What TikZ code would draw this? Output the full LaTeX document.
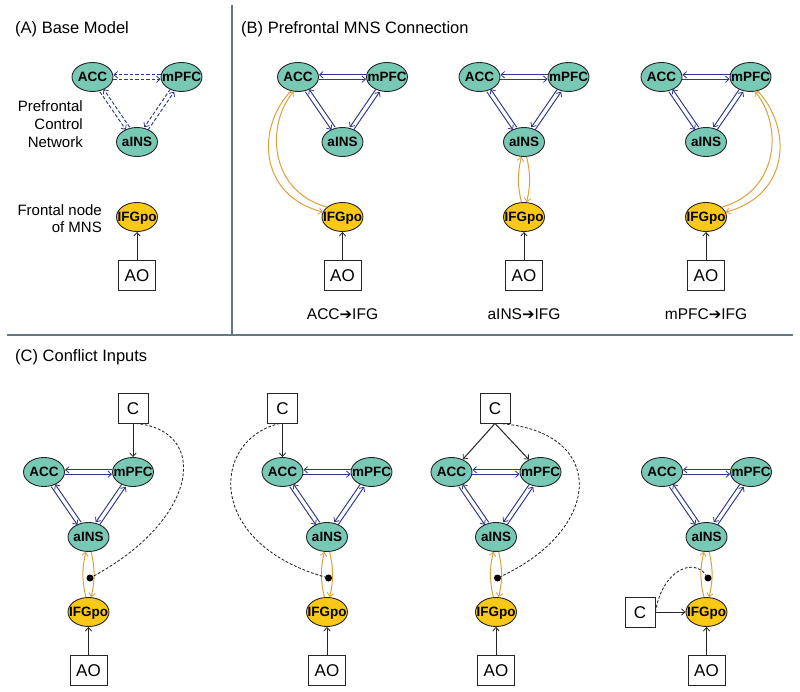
\documentclass[tikz,border=0pt]{standalone}
\usepackage{fontspec}
\setmainfont{Liberation Sans}
\newfontfamily\symfont{DejaVu Sans}
\usetikzlibrary{shapes.geometric,arrows.meta,calc}
\definecolor{tealfill}{RGB}{120,200,182}
\definecolor{ifgyellow}{RGB}{250,200,22}
\definecolor{navyline}{RGB}{45,55,140}
\definecolor{orangeline}{RGB}{222,160,60}
\definecolor{dividergray}{RGB}{100,120,130}
\newcommand\ctext[1]{\makebox[0pt]{\raisebox{-0.36em}[0pt][0pt]{#1}}}
\newcommand\garrow{{\symfont\fontsize{15}{15}\selectfont ➔}}
\tikzset{
  pfcnode/.style={ellipse, draw=black!85, line width=0.9pt, fill=tealfill,
    minimum width=41pt, minimum height=29pt, inner sep=0pt,
    font=\fontsize{13.5}{13.5}\selectfont\bfseries},
  ifgnode/.style={pfcnode, fill=ifgyellow},
  aobox/.style={rectangle, draw=black!85, line width=0.9pt, fill=white,
    minimum width=37pt, minimum height=30pt, inner sep=0pt,
    font=\fontsize{17}{17}\selectfont},
  cbox/.style={aobox, minimum width=30pt},
  tipstyle/.style={-{Straight Barb[length=3.6pt,width=6.5pt,line width=0.8pt]}},
  bluelink/.style={draw=navyline, line width=0.95pt, tipstyle},
  orangelink/.style={draw=orangeline, line width=1pt, tipstyle},
  blacklink/.style={draw=black!85, line width=1pt, tipstyle},
  conflictlink/.style={draw=black!85, line width=0.85pt, dash pattern=on 2.8pt off 1.8pt},
  dotnode/.style={circle, fill=black, inner sep=0pt, minimum size=7pt},
  titletext/.style={anchor=base west, inner sep=0pt, font=\fontsize{16.5}{19}\selectfont},
  sidetext/.style={anchor=north east, inner sep=0pt, align=right, font=\fontsize{15}{17.7}\selectfont},
  captext/.style={anchor=base, inner sep=0pt, font=\fontsize{15.5}{17}\selectfont},
  divider/.style={draw=dividergray, line width=1.3pt},
  dashedlink/.style={dash pattern=on 3.5pt off 2pt},
  solidlink/.style={solid}
}
% #1 prefix, #2 centre x, #3 y of top row, #4 style of the blue links
\newcommand\pfcnet[4]{%
  \node[pfcnode] (#1acc) at ({#2-44.5},{-#3}) {\ctext{ACC}};
  \node[pfcnode] (#1mpfc) at ({#2+44.5},{-#3}) {\ctext{mPFC}};
  \node[pfcnode] (#1ains) at (#2,{-#3-65}) {\ctext{aINS}};
  \node[ifgnode] (#1ifg) at (#2,{-#3-140}) {\ctext{IFGpo}};
  \node[aobox] (#1ao) at (#2,{-#3-198}) {\ctext{AO}};
  \draw[bluelink,#4,transform canvas={yshift=2.2pt}] (#1mpfc) -- (#1acc);
  \draw[bluelink,#4,transform canvas={yshift=-2.2pt}] (#1acc) -- (#1mpfc);
  \draw[bluelink,#4,transform canvas={shift={(1.9pt,1.3pt)}}] (#1ains) -- (#1acc);
  \draw[bluelink,#4,transform canvas={shift={(-1.9pt,-1.3pt)}}] (#1acc) -- (#1ains);
  \draw[bluelink,#4,transform canvas={shift={(-1.9pt,1.3pt)}}] (#1mpfc) -- (#1ains);
  \draw[bluelink,#4,transform canvas={shift={(1.9pt,-1.3pt)}}] (#1ains) -- (#1mpfc);
  \draw[blacklink] (#1ao) -- (#1ifg);
}
\newcommand\insifg[1]{%
  \draw[orangelink] (#1ifg.100) to[bend left=13] (#1ains.-100);
  \draw[orangelink] (#1ains.-80) to[bend left=13] (#1ifg.80);
}
\begin{document}
\begin{tikzpicture}[x=1pt,y=1pt]
\useasboundingbox (0,0) rectangle (800,-692);
\fill[white] (0,0) rectangle (800,-692);
% dividers
\draw[divider] (232,-5) -- (232,-335);
\draw[divider] (7,-335) -- (793,-335);
% titles
\node[titletext] (ta) at (15,-34) {(A) Base Model};
\node[titletext] (tb) at (241,-34) {(B) Prefrontal MNS Connection};
\node[titletext] (tc) at (15,-362) {(C) Conflict Inputs};
% (A)
\pfcnet{a}{137}{77}{dashedlink}
\node[sidetext] (pcn) at (83,-100.7) {Prefrontal\\Control\\Network};
\node[sidetext] (fnm) at (102,-204) {Frontal node\\of MNS};
% (B)
\pfcnet{ba}{342.5}{77}{solidlink}
\draw[orangelink] (baacc.-117) .. controls +(-35,-37) and +(-64,17) .. (baifg.166);
\draw[orangelink] (baifg.148) .. controls +(-59,17) and +(-27,-32) .. (baacc.-107);
\node[captext] (capa) at (342.5,-320) {ACC\garrow IFG};
\pfcnet{bb}{524}{77}{solidlink}
\insifg{bb}
\node[captext] (capb) at (524,-320) {aINS\garrow IFG};
\pfcnet{bc}{706}{77}{solidlink}
\draw[orangelink] (bcmpfc.-63) .. controls +(35,-37) and +(64,17) .. (bcifg.14);
\draw[orangelink] (bcifg.32) .. controls +(59,17) and +(27,-32) .. (bcmpfc.-73);
\node[captext] (capc) at (706,-320) {mPFC\garrow IFG};
% (C)
\pfcnet{ca}{88.5}{472}{solidlink}
\insifg{ca}
\node[dotnode] (cadot) at (90,-578) {};
\node[cbox] (cac) at (133,-408) {\ctext{C}};
\draw[blacklink] (cac) -- (campfc);
\draw[conflictlink] (cac.-80) .. controls (210,-430) and (200,-520) .. (cadot.center);

\pfcnet{cb}{327}{472}{solidlink}
\insifg{cb}
\node[dotnode] (cbdot) at (328.5,-578) {};
\node[cbox] (cbc) at (282.5,-408) {\ctext{C}};
\draw[blacklink] (cbc) -- (cbacc);
\draw[conflictlink] (cbc.-100) .. controls (210,-440) and (205,-545) .. (cbdot.center);

\pfcnet{cc}{496}{472}{solidlink}
\insifg{cc}
\node[dotnode] (ccdot) at (497.5,-578) {};
\node[cbox] (ccc) at (495,-408) {\ctext{C}};
\draw[blacklink] (ccc.south) -- (ccacc);
\draw[blacklink] (ccc.south) -- (ccmpfc);
\draw[conflictlink] (ccc.-80) .. controls (608,-430) and (605,-530) .. (ccdot.center);

\pfcnet{cd}{706.5}{472}{solidlink}
\insifg{cd}
\node[dotnode] (cddot) at (708,-578) {};
\node[cbox] (cdc) at (640,-612) {\ctext{C}};
\draw[blacklink] (cdc) -- (cdifg);
\draw[conflictlink] (cdc.east) .. controls (662,-570) and (695,-555) .. (cddot.center);
\end{tikzpicture}
\end{document}
